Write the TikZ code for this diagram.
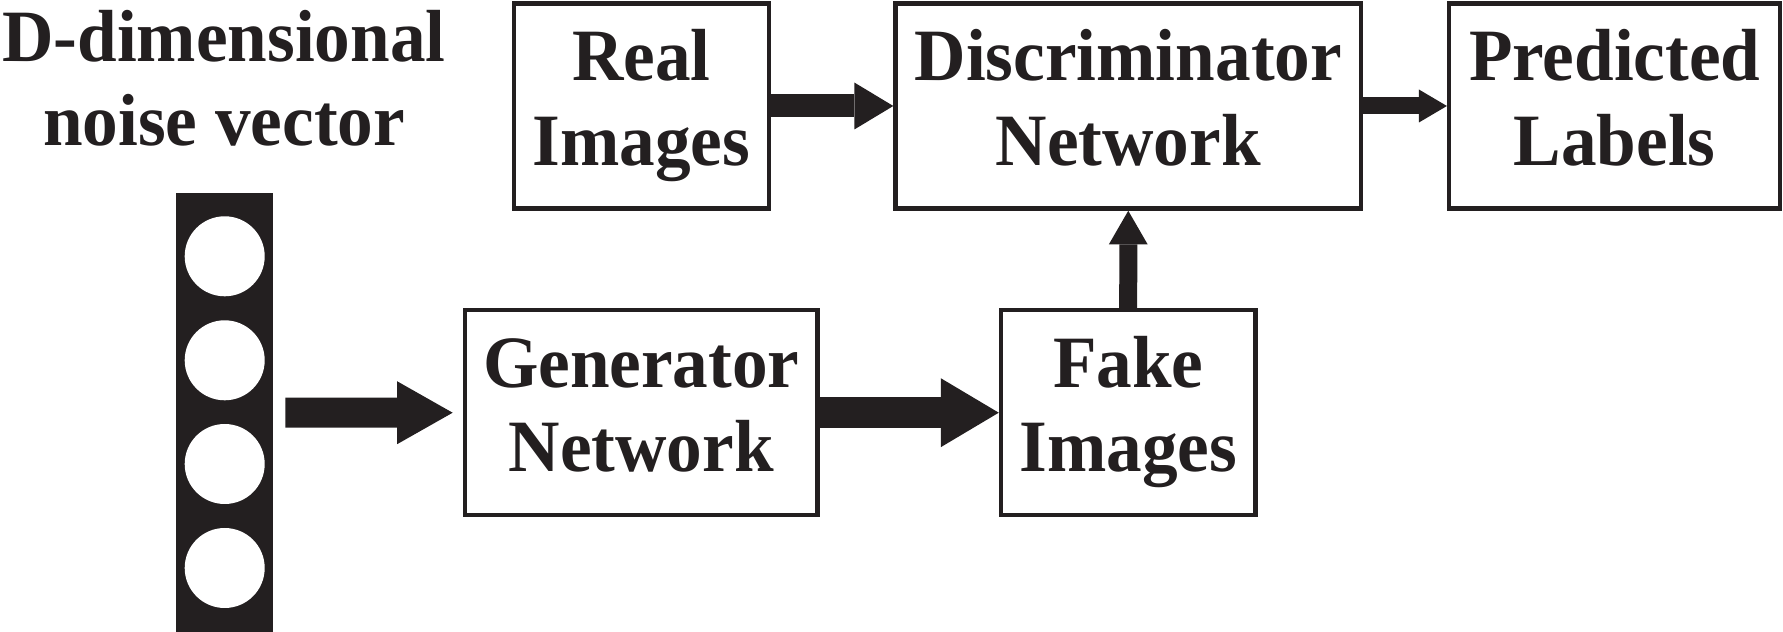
\documentclass[tikz,border=0pt]{standalone}
\usepackage{fontspec}
\setmainfont{Liberation Serif}[FakeStretch=0.965]
\usetikzlibrary{arrows.meta}
\definecolor{ganink}{HTML}{231F20}
\newcommand{\boxlines}[2]{#1\strut\\#2\strut}

\begin{document}
\begin{tikzpicture}[
  line join=miter,
  block/.style={draw=ganink,line width=1.3pt,align=center,inner sep=0pt,
    minimum height=2.05cm,text=ganink,font=\fontsize{21}{24}\selectfont\bfseries},
  flow/.style n args={3}{draw=ganink,line width=#1,
    -{Triangle[length=#2,width=#3,line width=0pt]}},
  vectorbar/.style={fill=ganink,draw=none,inner sep=0pt,
    minimum width=0.97cm,minimum height=4.385cm}
]
  \useasboundingbox (0,0) rectangle (17.83,6.32);

  % Noise vector column with its four unit circles.
  \node[vectorbar] (noise) at (2.247,2.1925) {};
  \foreach \k in {3.757,2.717,1.680,0.640} {
    \fill[white] (2.247,\k) circle[radius=0.40];
  }
  \node[align=center,inner sep=0pt,text=ganink,
    font=\fontsize{21}{24}\selectfont\bfseries] (noiselabel) at (2.24,5.54)
    {D-dimensional\\noise vector};

  % Upper row: real data, discriminator and its output.
  \node[block,minimum width=2.550cm] (real) at (6.413,5.26) {\boxlines{Real}{Images}};
  \node[block,minimum width=4.654cm] (disc) at (11.283,5.26) {\boxlines{Discriminator}{Network}};
  \node[block,minimum width=3.310cm] (pred) at (16.147,5.26) {\boxlines{Predicted}{Labels}};

  % Lower row: generator and the samples it makes.
  \node[block,minimum width=3.525cm] (gen) at (6.412,2.193) {\boxlines{Generator}{Network}};
  \node[block,minimum width=2.543cm] (fake) at (11.282,2.193) {\boxlines{Fake}{Images}};

  % Block arrows between the stages.
  \draw[flow={0.30cm}{0.556cm}{0.63cm},shorten <=0.115cm,shorten >=0.10cm] (noise) -- (gen);
  \draw[flow={0.31cm}{0.58cm}{0.69cm}] (gen) -- (fake);
  \draw[flow={0.23cm}{0.39cm}{0.47cm}] (real) -- (disc);
  \draw[flow={0.17cm}{0.28cm}{0.33cm}] (disc) -- (pred);
  \draw[flow={0.18cm}{0.335cm}{0.387cm}] (fake) -- (disc);
\end{tikzpicture}
\end{document}
